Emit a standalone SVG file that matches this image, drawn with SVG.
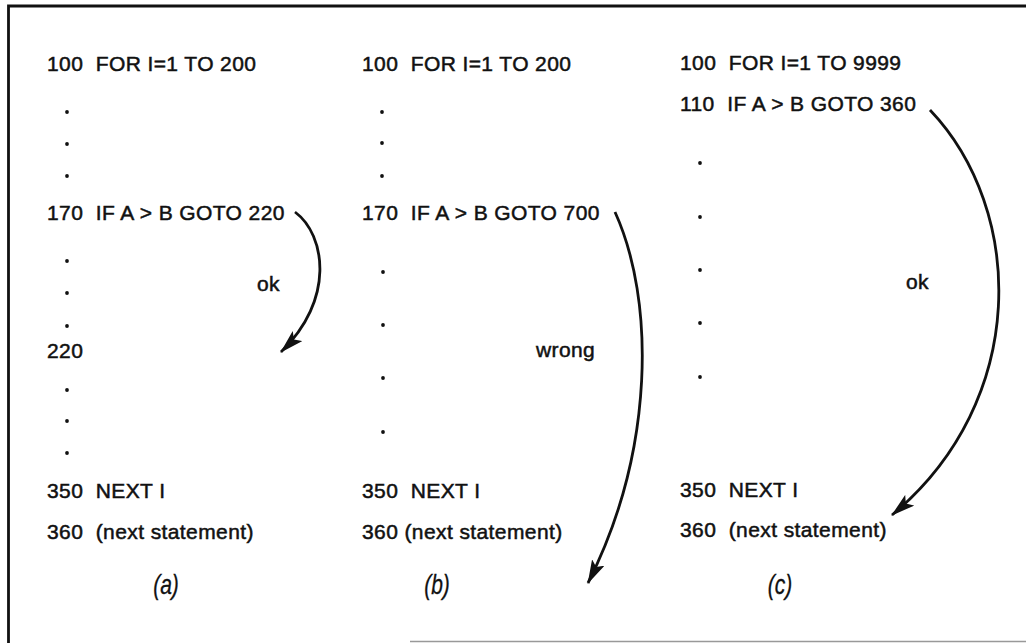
<svg xmlns="http://www.w3.org/2000/svg" width="1026" height="643" viewBox="0 0 1026 643">
<style>
.t{font-family:"Liberation Sans",Arial,sans-serif;font-size:21px;letter-spacing:0.4px;fill:#111;stroke:#111;stroke-width:0.5}
.lab{font-family:"Liberation Sans",Arial,sans-serif;font-size:27px;font-style:italic;fill:#111;stroke:#111;stroke-width:0.3}
.d{fill:#111}
.arc{fill:none;stroke:#111;stroke-width:2.8}
.fr{fill:none;stroke:#111;stroke-width:2.8}
</style>
<defs>
<marker id="ah" viewBox="0 0 24 14" refX="23" refY="7" markerWidth="24" markerHeight="14" markerUnits="userSpaceOnUse" orient="auto">
<path d="M0,0 L24,7 L0,14 L5,7 Z" fill="#111"/>
</marker>
</defs>
<rect width="1026" height="643" fill="#fff"/>
<g id="frame">
<path class="fr" d="M1026,6 L8.5,6 L8.5,643"/>
<path d="M410,641.5 L1026,641.5" stroke="#999" stroke-width="1.5" fill="none"/>
</g>
<g id="col-a">
<text class="t" x="47" y="71" xml:space="preserve">100  FOR I=1 TO 200</text>
<circle class="d" cx="67" cy="112" r="1.9"/>
<circle class="d" cx="67" cy="144" r="1.9"/>
<circle class="d" cx="67" cy="176" r="1.9"/>
<text class="t" x="47" y="220" xml:space="preserve">170  IF A &gt; B GOTO 220</text>
<circle class="d" cx="67" cy="261" r="1.9"/>
<circle class="d" cx="67" cy="293" r="1.9"/>
<circle class="d" cx="67" cy="326" r="1.9"/>
<text class="t" x="257" y="291">ok</text>
<text class="t" x="47" y="358">220</text>
<circle class="d" cx="67" cy="390" r="1.9"/>
<circle class="d" cx="67" cy="421" r="1.9"/>
<circle class="d" cx="67" cy="453" r="1.9"/>
<text class="t" x="47" y="498" xml:space="preserve">350  NEXT I</text>
<text class="t" x="47" y="539" xml:space="preserve">360  (next statement)</text>
<text class="lab" transform="translate(166,594) scale(0.78,1)" text-anchor="middle">(a)</text>
</g>
<g id="col-b">
<text class="t" x="362" y="71" xml:space="preserve">100  FOR I=1 TO 200</text>
<circle class="d" cx="382" cy="112" r="1.9"/>
<circle class="d" cx="382" cy="143" r="1.9"/>
<circle class="d" cx="382" cy="176" r="1.9"/>
<text class="t" x="362" y="220" xml:space="preserve">170  IF A &gt; B GOTO 700</text>
<circle class="d" cx="383" cy="272" r="1.9"/>
<circle class="d" cx="383" cy="325" r="1.9"/>
<circle class="d" cx="383" cy="378" r="1.9"/>
<circle class="d" cx="383" cy="432" r="1.9"/>
<text class="t" x="536" y="357">wrong</text>
<text class="t" x="362" y="498" xml:space="preserve">350  NEXT I</text>
<text class="t" x="362" y="539" xml:space="preserve">360 (next statement)</text>
<text class="lab" transform="translate(437,594) scale(0.78,1)" text-anchor="middle">(b)</text>
</g>
<g id="col-c">
<text class="t" x="680" y="70" xml:space="preserve">100  FOR I=1 TO 9999</text>
<text class="t" x="680" y="111" xml:space="preserve">110  IF A &gt; B GOTO 360</text>
<circle class="d" cx="700" cy="163" r="1.9"/>
<circle class="d" cx="700" cy="217" r="1.9"/>
<circle class="d" cx="700" cy="270" r="1.9"/>
<circle class="d" cx="700" cy="323" r="1.9"/>
<circle class="d" cx="700" cy="377" r="1.9"/>
<text class="t" x="906" y="289">ok</text>
<text class="t" x="680" y="497" xml:space="preserve">350  NEXT I</text>
<text class="t" x="680" y="537" xml:space="preserve">360  (next statement)</text>
<text class="lab" transform="translate(780,594) scale(0.78,1)" text-anchor="middle">(c)</text>
</g>
<g id="connectors">
<path class="arc" d="M295,212 C326,235 335,300 281,352" marker-end="url(#ah)"/>
<path class="arc" d="M615,212 C655,300 655,450 588,583" marker-end="url(#ah)"/>
<path class="arc" d="M930,110 C1025,210 1030,400 892,515" marker-end="url(#ah)"/>
</g>
</svg>
